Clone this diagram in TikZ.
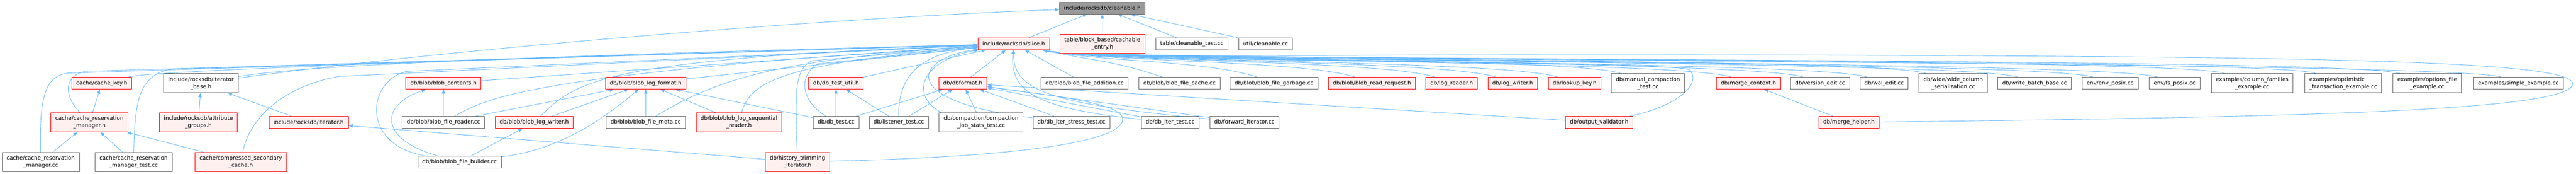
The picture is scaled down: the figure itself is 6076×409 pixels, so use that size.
\documentclass[tikz,border=0pt]{standalone}
\usepackage{fontspec}
\setmainfont{DejaVu Sans}
\usepackage{tikz}
\usetikzlibrary{arrows.meta, backgrounds, calc}

\definecolor{edgeblue}{HTML}{63B8FF}
\definecolor{hdrfill}{HTML}{FFF0F0}
\definecolor{rootfill}{HTML}{999999}
\definecolor{boxgray}{HTML}{666666}

\begin{document}
\begin{tikzpicture}[x=0.75pt, y=0.75pt,
  box/.style={draw, line width=0.75pt, rectangle, inner xsep=8pt, inner ysep=2pt,
    minimum height=21pt, align=center, font=\fontsize{9.7}{12.75}\selectfont},
  hdr/.style={box, draw=red, fill=hdrfill},
  src/.style={box, draw=boxgray, fill=white},
  root/.style={box, draw=boxgray, fill=rootfill},
  tall/.style={minimum height=33.75pt},
  dep/.style={draw=edgeblue, line width=0.8pt, -{Triangle[length=7.5pt,width=6pt]}}]
  \useasboundingbox (0,0) rectangle (6076,-409);
  % Top file
  \node[root] (cleanable) at (2600,-19) {include/rocksdb/cleanable.h};
  % Second row
  \node[hdr] (slice) at (2391,-103) {include/rocksdb/slice.h};
  \node[hdr,tall] (cachable) at (2600,-103) {table/block\_based/cachable\\\_entry.h};
  \node[src] (cleanabletest) at (2811,-103) {table/cleanable\_test.cc};
  \node[src] (utilcleanable) at (2985,-103) {util/cleanable.cc};
  % Third row
  \node[hdr] (cachekey) at (240,-196) {cache/cache\_key.h};
  \node[src,tall] (iterbase) at (474,-196) {include/rocksdb/iterator\\\_base.h};
  \node[hdr] (blobcontents) at (1046,-196) {db/blob/blob\_contents.h};
  \node[hdr] (blobformat) at (1523,-196) {db/blob/blob\_log\_format.h};
  \node[hdr] (dbtestutil) at (1972,-196) {db/db\_test\_util.h};
  \node[hdr] (dbformat) at (2271,-196) {db/dbformat.h};
  \node[src] (blobaddition) at (2558,-196) {db/blob/blob\_file\_addition.cc};
  \node[src] (blobcache) at (2782,-196) {db/blob/blob\_file\_cache.cc};
  \node[src] (blobgarbage) at (3005,-196) {db/blob/blob\_file\_garbage.cc};
  \node[hdr] (blobreadreq) at (3236,-196) {db/blob/blob\_read\_request.h};
  \node[hdr] (logreader) at (3424,-196) {db/log\_reader.h};
  \node[hdr] (logwriter) at (3568,-196) {db/log\_writer.h};
  \node[hdr] (lookupkey) at (3714,-196) {db/lookup\_key.h};
  \node[src,tall] (manualcompaction) at (3887,-196) {db/manual\_compaction\\\_test.cc};
  \node[hdr] (mergecontext) at (4124,-196) {db/merge\_context.h};
  \node[src] (versionedit) at (4293,-196) {db/version\_edit.cc};
  \node[src] (waledit) at (4444,-196) {db/wal\_edit.cc};
  \node[src,tall] (widecolumn) at (4607,-196) {db/wide/wide\_column\\\_serialization.cc};
  \node[src] (writebatch) at (4799,-196) {db/write\_batch\_base.cc};
  \node[src] (envposix) at (4977,-196) {env/env\_posix.cc};
  \node[src] (fsposix) at (5129,-196) {env/fs\_posix.cc};
  \node[src,tall] (cfexample) at (5312,-196) {examples/column\_families\\\_example.cc};
  \node[src,tall,align=left] (optimistic) at (5527,-196) {examples/optimistic\\\_transaction\_example.cc};
  \node[src,tall] (optionsfile) at (5725,-196) {examples/options\_file\\\_example.cc};
  \node[src] (simpleexample) at (5940,-196) {examples/simple\_example.cc};
  % Fourth row
  \node[hdr,tall] (crmh) at (211,-288) {cache/cache\_reservation\\\_manager.h};
  \node[hdr,tall] (attrgroups) at (468,-288) {include/rocksdb/attribute\\\_groups.h};
  \node[hdr] (iterator) at (728,-288) {include/rocksdb/iterator.h};
  \node[src] (blobreader) at (1046,-288) {db/blob/blob\_file\_reader.cc};
  \node[hdr] (blobwriter) at (1260,-288) {db/blob/blob\_log\_writer.h};
  \node[src] (blobmeta) at (1523,-288) {db/blob/blob\_file\_meta.cc};
  \node[hdr,tall] (blobseqreader) at (1743,-288) {db/blob/blob\_log\_sequential\\\_reader.h};
  \node[src] (dbtest) at (1972,-288) {db/db\_test.cc};
  \node[src] (listenertest) at (2120,-288) {db/listener\_test.cc};
  \node[src,tall] (compactionstats) at (2314,-288) {db/compaction/compaction\\\_job\_stats\_test.cc};
  \node[src] (iterstress) at (2527,-288) {db/db\_iter\_stress\_test.cc};
  \node[src] (itertest) at (2760,-288) {db/db\_iter\_test.cc};
  \node[src] (forwarditer) at (2935,-288) {db/forward\_iterator.cc};
  \node[hdr] (outputvalidator) at (3772,-288) {db/output\_validator.h};
  \node[hdr] (mergehelper) at (4361,-288) {db/merge\_helper.h};
  % Bottom row
  \node[src,tall] (crmcc) at (96,-381) {cache/cache\_reservation\\\_manager.cc};
  \node[src,tall] (crmtest) at (315,-381) {cache/cache\_reservation\\\_manager\_test.cc};
  \node[hdr,tall] (compressedcache) at (568,-381) {cache/compressed\_secondary\\\_cache.h};
  \node[src] (blobbuilder) at (1084,-381) {db/blob/blob\_file\_builder.cc};
  \node[hdr,tall] (historytrim) at (1881,-381) {db/history\_trimming\\\_iterator.h};

  \begin{scope}[on background layer]
  \fill[white] (0,0) rectangle (6076,-409);
  % Into cleanable.h
  \draw[dep] (slice) -- (cleanable);
  \draw[dep] (cachable) -- (cleanable);
  \draw[dep] (cleanabletest) -- (cleanable);
  \draw[dep] (utilcleanable) -- (cleanable);
  \draw[dep] (iterbase) .. controls (1100,-110) and (2000,-40) .. (cleanable);
  % Into slice.h from the left
  \draw[dep] (crmcc) .. controls (93,-230) and (105,-180) .. (160,-172) -- (slice);
  \draw[dep] (crmh) .. controls (150,-225) and (150,-180) .. (200,-168) -- (slice);
  \draw[dep] (crmtest) .. controls (318,-230) and (330,-180) .. (400,-163) -- (slice);
  \draw[dep] (cachekey) .. controls (330,-175) and (420,-160) .. (slice);
  \draw[dep] (iterbase) .. controls (650,-165) and (900,-140) .. (slice);
  \draw[dep] (compressedcache) .. controls (590,-270) and (680,-200) .. (800,-180) -- (slice);
  \draw[dep] (blobbuilder) .. controls (850,-340) and (865,-190) .. (960,-168) -- (slice);
  \draw[dep] (blobcontents) -- (slice);
  \draw[dep] (blobreader) .. controls (1150,-230) and (1250,-175) .. (slice);
  \draw[dep] (blobwriter) .. controls (1360,-190) and (1420,-140) .. (slice);
  \draw[dep] (blobformat) -- (slice);
  \draw[dep] (blobmeta) .. controls (1700,-180) and (1850,-140) .. (slice);
  \draw[dep] (blobseqreader) .. controls (1770,-190) and (1850,-150) .. (slice);
  \draw[dep] (historytrim) .. controls (1876,-220) and (1872,-165) .. (1915,-143) -- (slice);
  \draw[dep] (dbtest) .. controls (1885,-235) and (1885,-175) .. (1930,-150) -- (slice);
  \draw[dep] (dbtestutil) -- (slice);
  \draw[dep] (listenertest) .. controls (2118,-170) and (2180,-125) .. (slice);
  \draw[dep] ([xshift=4pt]compactionstats.north west) .. controls (2140,-220) and (2180,-140) .. (slice);
  \draw[dep] (iterstress) .. controls (2120,-240) and (2150,-140) .. (slice);
  \draw[dep] (dbformat) -- (slice);
  \draw[dep] (blobaddition) -- (slice);
  \draw[dep] (itertest) .. controls (2440,-255) and (2382,-215) .. (slice);
  \draw[dep] (forwarditer) .. controls (2480,-245) and (2390,-215) .. (slice);
  % Into slice.h from the right
  \foreach \n in {blobcache,blobgarbage,blobreadreq,logreader,logwriter,lookupkey,manualcompaction,mergecontext,versionedit,waledit,widecolumn,writebatch,envposix,fsposix,cfexample,optimistic,optionsfile,simpleexample}
    \draw[dep] (\n.160) .. controls ($(\n.160)+(-120,40)$) and ($(slice.-12)+(130,-28)$) .. (slice.-12);
  \draw[dep] (outputvalidator) .. controls (3960,-250) and (4015,-195) .. (3985,-165)
    .. controls (3950,-140) and (2600,-150) .. (slice.-12);
  \draw[dep] (mergehelper) .. controls (5400,-276) and (6068,-262) .. (6068,-197)
    .. controls (6068,-140) and (5400,-132) .. (4000,-129)
    .. controls (3000,-127) and (2540,-140) .. (slice.-12);
  % Lower includes
  \draw[dep] (crmh) -- (cachekey);
  \draw[dep] (crmcc) -- (crmh);
  \draw[dep] (crmtest) -- (crmh);
  \draw[dep] (compressedcache) -- (crmh);
  \draw[dep] (attrgroups) -- (iterbase);
  \draw[dep] (iterator) -- (iterbase);
  \draw[dep] (historytrim) -- (iterator);
  \draw[dep] (blobreader) -- (blobcontents);
  \draw[dep] (blobbuilder) .. controls (900,-330) and (890,-250) .. (blobcontents);
  \draw[dep] (blobbuilder) -- (blobwriter);
  \draw[dep] (blobreader) -- (blobformat);
  \draw[dep] (blobwriter) -- (blobformat);
  \draw[dep] (blobbuilder) .. controls (1300,-355) and (1400,-300) .. (blobformat);
  \draw[dep] (blobmeta) -- (blobformat);
  \draw[dep] (blobseqreader) -- (blobformat);
  \draw[dep] (dbtest) -- (blobformat);
  \draw[dep] (dbtest) -- (dbtestutil);
  \draw[dep] (listenertest) -- (dbtestutil);
  \draw[dep] (dbtest) -- (dbformat);
  \draw[dep] (listenertest) -- (dbformat);
  \draw[dep] (compactionstats) -- (dbformat);
  \draw[dep] (iterstress) -- (dbformat);
  \draw[dep] (itertest) -- (dbformat);
  \draw[dep] (forwarditer) -- (dbformat);
  \draw[dep] (outputvalidator) -- (dbformat);
  \draw[dep] (historytrim) .. controls (2300,-372) and (2648,-345) .. (2648,-280)
    .. controls (2648,-240) and (2450,-222) .. (dbformat);
  \draw[dep] (mergehelper) -- (mergecontext);
  \end{scope}
\end{tikzpicture}
\end{document}
